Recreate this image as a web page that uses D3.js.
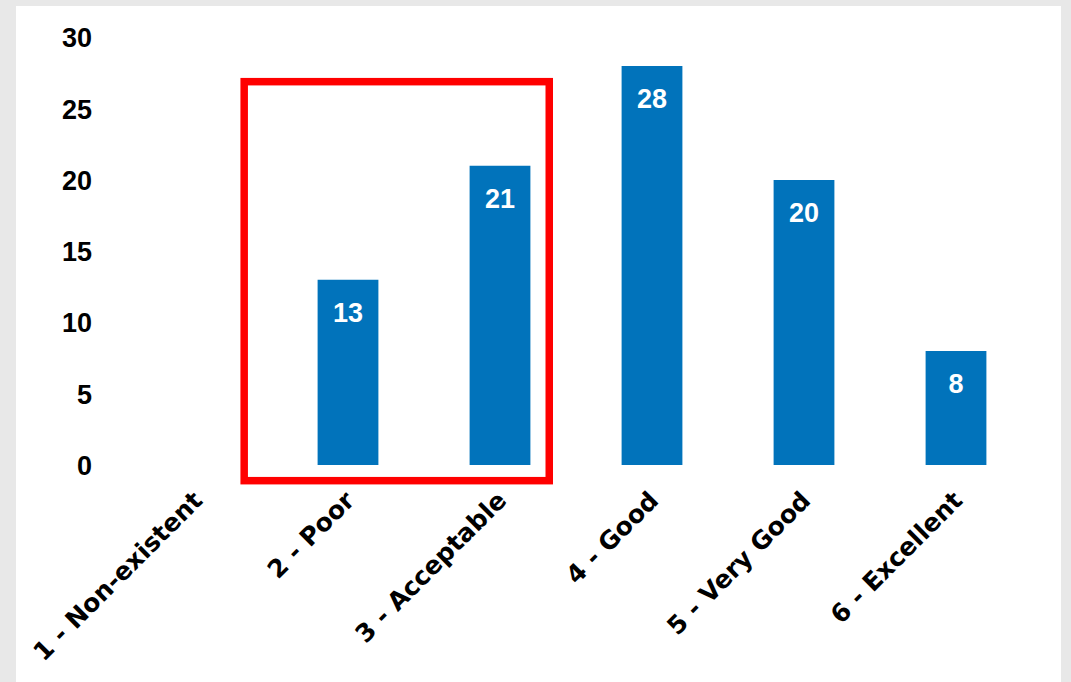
<!DOCTYPE html>
<html>
<head>
<meta charset="utf-8">
<script src="https://cdn.jsdelivr.net/npm/d3@7"></script>
<style>
  html, body { margin: 0; padding: 0; background: #e8e8e8; }
  svg { display: block; }
</style>
</head>
<body>
<svg id="chart" width="1071" height="682"></svg>
<script>
// Ratings and the number of responses for each
const categories = ["1 - Non-existent", "2 - Poor", "3 - Acceptable", "4 - Good", "5 - Very Good", "6 - Excellent"];
const counts = [0, 13, 21, 28, 20, 8];
const yTicks = [0, 5, 10, 15, 20, 25, 30];
// Categories called out by the red box, and its vertical extent in data units
const highlighted = ["2 - Poor", "3 - Acceptable"];
const highlightSpan = [-1.1, 26.9];

const W = 1071, H = 682;
const svg = d3.select("#chart");

// white card
svg.append("rect").attr("x", 16).attr("y", 6).attr("width", 1045).attr("height", H - 6).attr("fill", "#ffffff");

const x = d3.scaleBand().domain(categories).range([120, 1032]).paddingInner(0.6).paddingOuter(0.3);
const y = d3.scaleLinear().domain([0, 30]).range([465, 37.5]);

// y axis labels only (no line, no ticks)
const yAxis = svg.append("g").attr("transform", "translate(92,0)")
  .call(d3.axisLeft(y).tickValues(yTicks).tickSize(0).tickPadding(0));
yAxis.select(".domain").remove();
yAxis.selectAll("text")
  .attr("font-family", "'Liberation Sans', Arial, sans-serif")
  .attr("font-weight", "bold")
  .attr("font-size", 27)
  .attr("fill", "#000")
  .attr("dy", "0.35em");

// bars
svg.append("g").selectAll("rect")
  .data(categories.map((c, i) => ({ c, v: counts[i] })).filter(d => d.v > 0))
  .join("rect")
  .attr("x", d => x(d.c))
  .attr("y", d => y(d.v))
  .attr("width", x.bandwidth())
  .attr("height", d => y(0) - y(d.v))
  .attr("fill", "#0173bb");

// value labels inside the bar tops
svg.append("g").selectAll("text")
  .data(categories.map((c, i) => ({ c, v: counts[i] })).filter(d => d.v > 0))
  .join("text")
  .attr("x", d => x(d.c) + x.bandwidth() / 2)
  .attr("y", d => y(d.v) + 42)
  .attr("text-anchor", "middle")
  .attr("font-family", "'Liberation Sans', Arial, sans-serif")
  .attr("font-weight", "bold")
  .attr("font-size", 27)
  .attr("fill", "#ffffff")
  .text(d => d.v);

// rotated category labels
svg.append("g").selectAll("text")
  .data(categories)
  .join("text")
  .attr("transform", d => `translate(${x(d) + x.bandwidth() / 2 + 8},${y(0) + 37}) rotate(-45)`)
  .attr("text-anchor", "end")
  .attr("font-family", "'DejaVu Sans', sans-serif")
  .attr("font-weight", "bold")
  .attr("font-size", 25)
  .attr("fill", "#000")
  .text(d => d);

// red highlight box around the weaker ratings
const step = x.step();
const c0 = x(highlighted[0]) + x.bandwidth() / 2;
const c1 = x(highlighted[highlighted.length - 1]) + x.bandwidth() / 2;
svg.append("rect")
  .attr("x", c0 - step * 0.683)
  .attr("y", y(highlightSpan[1]))
  .attr("width", (c1 + step * 0.324) - (c0 - step * 0.683))
  .attr("height", y(highlightSpan[0]) - y(highlightSpan[1]))
  .attr("fill", "none")
  .attr("stroke", "#ff0000")
  .attr("stroke-width", 7.5);
</script>
</body>
</html>
